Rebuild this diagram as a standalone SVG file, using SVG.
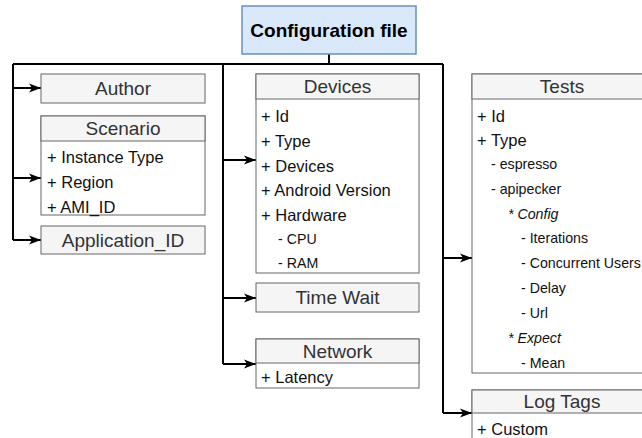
<svg xmlns="http://www.w3.org/2000/svg" width="642" height="438" viewBox="0 0 642 438">
<style>
.bg{fill:#ffffff}
.box{fill:#ffffff;stroke:#666666;stroke-width:1}
.hdr{fill:#f5f5f5;stroke:#666666;stroke-width:1}
.ht{font-family:"Liberation Sans",Arial,sans-serif;font-size:19px;fill:#333333;text-anchor:middle}
.it{font-family:"Liberation Sans",Arial,sans-serif;font-size:16.5px;fill:#111111}
.sub{font-family:"Liberation Sans",Arial,sans-serif;font-size:14.2px;fill:#111111}
.em{font-style:italic}
.conn{fill:none;stroke:#000000;stroke-width:2}
</style>
<defs>
<marker id="arr" markerUnits="userSpaceOnUse" markerWidth="13" markerHeight="10" refX="12" refY="4.5" orient="auto" overflow="visible">
<path d="M0,0 L12,4.5 L0,9 L3,4.5 Z" fill="#000000"/>
</marker>
</defs>
<rect class="bg" x="0" y="0" width="642" height="438"/>
<g id="connectors">
<path class="conn" d="M329 54 V64 M13 64 H443 M13 64 V240 M223 64 V364 M443 64 V413"/>
<path class="conn" d="M13 88 H41" marker-end="url(#arr)"/>
<path class="conn" d="M13 178 H41" marker-end="url(#arr)"/>
<path class="conn" d="M13 240 H41" marker-end="url(#arr)"/>
<path class="conn" d="M223 160 H256" marker-end="url(#arr)"/>
<path class="conn" d="M223 298 H256" marker-end="url(#arr)"/>
<path class="conn" d="M223 364 H256" marker-end="url(#arr)"/>
<path class="conn" d="M443 258 H472" marker-end="url(#arr)"/>
<path class="conn" d="M443 413 H472" marker-end="url(#arr)"/>
</g>
<g id="config">
<rect x="242" y="6" width="174" height="48" fill="#dae8fc" stroke="#6c8ebf" stroke-width="1.5"/>
<text x="329" y="37" font-family="'Liberation Sans',Arial,sans-serif" font-size="19" font-weight="bold" fill="#000000" text-anchor="middle">Configuration file</text>
</g>
<g id="author">
<rect class="hdr" x="41" y="74" width="164" height="29"/>
<text class="ht" x="123" y="95">Author</text>
</g>
<g id="scenario">
<rect class="box" x="41" y="116" width="164" height="99"/>
<rect class="hdr" x="41" y="116" width="164" height="25"/>
<text class="ht" x="123" y="135">Scenario</text>
<text class="it" x="47" y="163">+ Instance Type</text>
<text class="it" x="47" y="188">+ Region</text>
<text class="it" x="47" y="213">+ AMI_ID</text>
</g>
<g id="application">
<rect class="hdr" x="41" y="226" width="164" height="28"/>
<text class="ht" x="123" y="246.5">Application_ID</text>
</g>
<g id="devices">
<rect class="box" x="256" y="74" width="163" height="199"/>
<rect class="hdr" x="256" y="74" width="163" height="25"/>
<text class="ht" x="337.5" y="93">Devices</text>
<text class="it" x="261" y="122">+ Id</text>
<text class="it" x="261" y="147">+ Type</text>
<text class="it" x="261" y="172">+ Devices</text>
<text class="it" x="261" y="196">+ Android Version</text>
<text class="it" x="261" y="221">+ Hardware</text>
<text class="sub" x="278" y="244">- CPU</text>
<text class="sub" x="278" y="268">- RAM</text>
</g>
<g id="timewait">
<rect class="hdr" x="256" y="283" width="163" height="29"/>
<text class="ht" x="337.5" y="304">Time Wait</text>
</g>
<g id="network">
<rect class="box" x="256" y="339" width="163" height="49"/>
<rect class="hdr" x="256" y="339" width="163" height="24"/>
<text class="ht" x="337.5" y="358">Network</text>
<text class="it" x="261" y="383">+ Latency</text>
</g>
<g id="tests">
<rect class="box" x="472" y="74" width="180" height="299"/>
<rect class="hdr" x="472" y="74" width="180" height="25"/>
<text class="ht" x="562" y="93">Tests</text>
<text class="it" x="477" y="122">+ Id</text>
<text class="it" x="477" y="146">+ Type</text>
<text class="sub" x="491" y="169">- espresso</text>
<text class="sub" x="491" y="194">- apipecker</text>
<text class="sub em" x="508" y="219">* Config</text>
<text class="sub" x="521" y="243">- Iterations</text>
<text class="sub" x="521" y="268">- Concurrent Users</text>
<text class="sub" x="521" y="293">- Delay</text>
<text class="sub" x="521" y="318">- Url</text>
<text class="sub em" x="508" y="343">* Expect</text>
<text class="sub" x="521" y="368">- Mean</text>
</g>
<g id="logtags">
<rect class="box" x="472" y="390" width="180" height="60"/>
<rect class="hdr" x="472" y="390" width="180" height="23"/>
<text class="ht" x="562" y="408">Log Tags</text>
<text class="it" x="477" y="435">+ Custom</text>
</g>
</svg>
